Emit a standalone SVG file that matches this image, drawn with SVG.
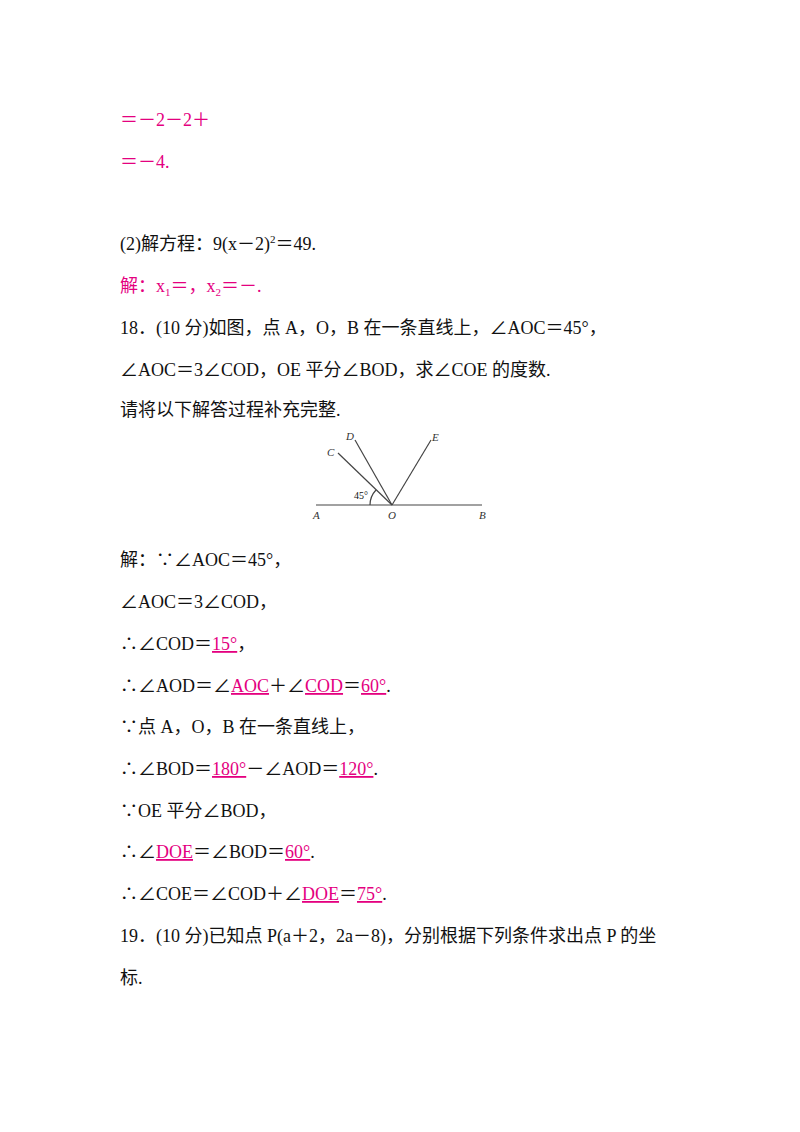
<svg xmlns="http://www.w3.org/2000/svg" width="800" height="1132" viewBox="0 0 800 1132">
<style>
text{font-family:"Liberation Serif","Noto Sans CJK SC",serif;font-size:18px;fill:#111}
.p{fill:#e4007f}
.u{fill:#e4007f;text-decoration:underline}
.l{font-size:11px;font-style:italic;fill:#333}
</style>
<rect width="800" height="1132" fill="#fff"/>
<text x="120" y="126" class="p">＝－2－2＋</text>
<text x="120" y="168" class="p">＝－4.</text>
<text x="120" y="250">(2)解方程：9(x－2)<tspan font-size="11" dy="-7">2</tspan><tspan dy="7">＝49.</tspan></text>
<text x="120" y="292" class="p">解：x<tspan font-size="11" dy="4">1</tspan><tspan dy="-4">＝，x</tspan><tspan font-size="11" dy="4">2</tspan><tspan dy="-4">＝－.</tspan></text>
<text x="120" y="334">18．(10 分)如图，点 A，O，B 在一条直线上，∠AOC＝45°，</text>
<text x="120" y="376">∠AOC＝3∠COD，OE 平分∠BOD，求∠COE 的度数.</text>
<text x="120" y="416">请将以下解答过程补充完整.</text>
<g id="figure" stroke="#444" stroke-width="1.2" fill="none">
<line x1="316" y1="505" x2="482" y2="505"/>
<line x1="392" y1="505" x2="338" y2="453"/>
<line x1="392" y1="505" x2="355" y2="440"/>
<line x1="392" y1="505" x2="431" y2="440"/>
<path d="M370 505 A22 22 0 0 1 376 490"/>
</g>
<text x="346" y="440" class="l">D</text>
<text x="327" y="456" class="l">C</text>
<text x="432" y="441" class="l">E</text>
<text x="313" y="519" class="l">A</text>
<text x="388" y="519" class="l">O</text>
<text x="479" y="519" class="l">B</text>
<text x="354" y="499" font-size="10" style="font-size:10px">45°</text>
<text x="120" y="566">解：∵∠AOC＝45°，</text>
<text x="120" y="608">∠AOC＝3∠COD，</text>
<text x="120" y="650">∴∠COD＝<tspan class="u">15°</tspan>，</text>
<text x="120" y="692">∴∠AOD＝∠<tspan class="u">AOC</tspan>＋∠<tspan class="u">COD</tspan>＝<tspan class="u">60°</tspan>.</text>
<text x="120" y="733">∵点 A，O，B 在一条直线上，</text>
<text x="120" y="775">∴∠BOD＝<tspan class="u">180°</tspan>－∠AOD＝<tspan class="u">120°</tspan>.</text>
<text x="120" y="817">∵OE 平分∠BOD，</text>
<text x="120" y="858">∴∠<tspan class="u">DOE</tspan>＝∠BOD＝<tspan class="u">60°</tspan>.</text>
<text x="120" y="900">∴∠COE＝∠COD＋∠<tspan class="u">DOE</tspan>＝<tspan class="u">75°</tspan>.</text>
<text x="120" y="942">19．(10 分)已知点 P(a＋2，2a－8)，分别根据下列条件求出点 P 的坐</text>
<text x="120" y="984">标.</text>
</svg>
